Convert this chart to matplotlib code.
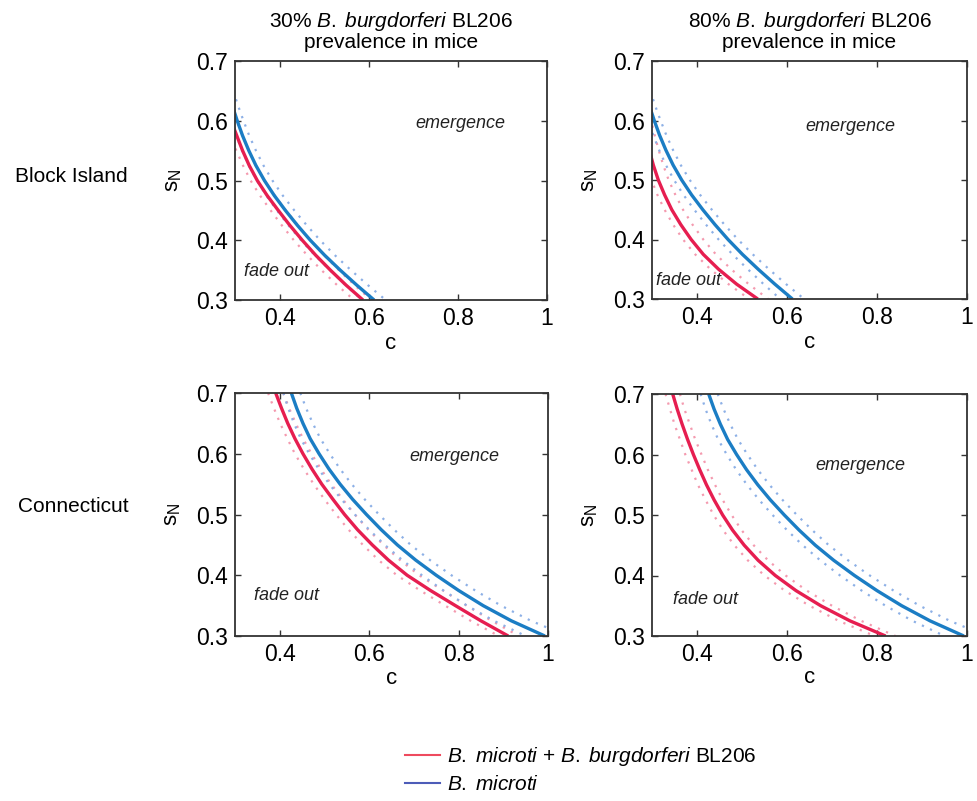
import numpy as np
import matplotlib
matplotlib.use('Agg')
import matplotlib.pyplot as plt
from matplotlib.lines import Line2D

plt.rcParams['font.family'] = 'Liberation Sans'
plt.rcParams['mathtext.fontset'] = 'custom'
plt.rcParams['mathtext.rm'] = 'Liberation Sans'
plt.rcParams['mathtext.it'] = 'Liberation Sans:italic'
plt.rcParams['mathtext.default'] = 'regular'
plt.rcParams['xtick.direction'] = 'in'
plt.rcParams['ytick.direction'] = 'in'
plt.rcParams['xtick.top'] = True
plt.rcParams['ytick.right'] = True

# s_N levels at which each threshold curve is read (rows: Block Island, Connecticut)
sN_row1 = [0.65, 0.625, 0.60, 0.575, 0.55, 0.525, 0.50, 0.475, 0.45, 0.425,
           0.40, 0.375, 0.35, 0.325, 0.30]
sN_row2 = [0.70, 0.675, 0.65, 0.625, 0.60, 0.575, 0.55, 0.525, 0.50, 0.475,
           0.45, 0.425, 0.40, 0.375, 0.35, 0.325, 0.30]

# B. microti alone (same in both columns of a row), solid line and dotted bounds
c_blue_1 = [0.284, 0.294, 0.305, 0.317, 0.331, 0.347, 0.366, 0.388, 0.413, 0.440,
            0.469, 0.501, 0.536, 0.573, 0.612]
c_blue_1_hi = [0.296, 0.307, 0.319, 0.332, 0.347, 0.364, 0.384, 0.407, 0.433, 0.461,
               0.491, 0.524, 0.560, 0.598, 0.638]
c_blue_1_lo = [0.271, 0.281, 0.291, 0.303, 0.316, 0.331, 0.349, 0.370, 0.394, 0.420,
               0.448, 0.479, 0.513, 0.548, 0.585]
c_blue_2 = [0.426, 0.438, 0.452, 0.468, 0.488, 0.510, 0.535, 0.563, 0.594, 0.627,
            0.663, 0.704, 0.750, 0.800, 0.855, 0.918, 0.993]
c_blue_2_hi = [0.446, 0.459, 0.474, 0.491, 0.512, 0.535, 0.561, 0.590, 0.622, 0.656,
               0.693, 0.736, 0.784, 0.837, 0.895, 0.962, 1.043]
c_blue_2_lo = [0.408, 0.419, 0.432, 0.447, 0.466, 0.487, 0.511, 0.538, 0.568, 0.600,
               0.635, 0.674, 0.718, 0.766, 0.819, 0.879, 0.950]

# B. microti + B. burgdorferi BL206, 30% prevalence in mice
c_red_BI30 = [0.262, 0.277, 0.291, 0.304, 0.317, 0.332, 0.350, 0.372, 0.397, 0.423,
              0.451, 0.481, 0.514, 0.549, 0.587]
c_red_BI30_hi = [0.275, 0.290, 0.304, 0.317, 0.331, 0.347, 0.366, 0.389, 0.414, 0.441,
                 0.469, 0.500, 0.533, 0.568, 0.606]
c_red_BI30_lo = [0.249, 0.263, 0.277, 0.290, 0.303, 0.318, 0.335, 0.356, 0.380, 0.405,
                 0.432, 0.462, 0.494, 0.529, 0.567]
c_red_CT30 = [0.391, 0.404, 0.418, 0.434, 0.452, 0.472, 0.494, 0.519, 0.545, 0.574,
              0.607, 0.643, 0.685, 0.737, 0.793, 0.850, 0.911]
c_red_CT30_hi = [0.408, 0.421, 0.436, 0.452, 0.471, 0.492, 0.515, 0.541, 0.568, 0.598,
                 0.632, 0.669, 0.712, 0.765, 0.818, 0.874, 0.935]
c_red_CT30_lo = [0.374, 0.387, 0.401, 0.417, 0.434, 0.454, 0.476, 0.500, 0.526, 0.554,
                 0.586, 0.621, 0.662, 0.714, 0.770, 0.827, 0.890]

# 80% prevalence in mice
c_red_BI80 = [0.268, 0.273, 0.279, 0.286, 0.294, 0.303, 0.314, 0.328, 0.344, 0.364,
              0.387, 0.414, 0.448, 0.488, 0.535]
c_red_BI80_hi = [0.285, 0.291, 0.298, 0.306, 0.315, 0.325, 0.337, 0.352, 0.369, 0.390,
                 0.414, 0.442, 0.476, 0.515, 0.558]
c_red_BI80_lo = [0.254, 0.259, 0.265, 0.272, 0.280, 0.289, 0.299, 0.312, 0.328, 0.347,
                 0.369, 0.396, 0.430, 0.470, 0.516]
c_red_CT80 = [0.346, 0.356, 0.367, 0.379, 0.392, 0.406, 0.421, 0.438, 0.457, 0.479,
              0.505, 0.536, 0.574, 0.620, 0.675, 0.740, 0.819]
c_red_CT80_hi = [0.362, 0.372, 0.384, 0.396, 0.410, 0.424, 0.440, 0.457, 0.477, 0.499,
                 0.526, 0.558, 0.597, 0.644, 0.700, 0.765, 0.841]
c_red_CT80_lo = [0.330, 0.340, 0.350, 0.362, 0.374, 0.388, 0.402, 0.419, 0.437, 0.458,
                 0.483, 0.513, 0.550, 0.595, 0.650, 0.715, 0.795]

col_titles = [r'30% $\it{B.\;burgdorferi}$ BL206' + '\nprevalence in mice',
              r'80% $\it{B.\;burgdorferi}$ BL206' + '\nprevalence in mice']
row_labels = ['Block Island', 'Connecticut']

RED = '#e61e50'
BLUE = '#1b7dc4'
RED_DOT = '#f49aaf'
BLUE_DOT = '#8db0e6'

panels = [
    (sN_row1, c_red_BI30, c_red_BI30_lo, c_red_BI30_hi, c_blue_1, c_blue_1_lo, c_blue_1_hi,
     (0.805, 0.595), (0.392, 0.347)),
    (sN_row1, c_red_BI80, c_red_BI80_lo, c_red_BI80_hi, c_blue_1, c_blue_1_lo, c_blue_1_hi,
     (0.741, 0.590), (0.381, 0.331)),
    (sN_row2, c_red_CT30, c_red_CT30_lo, c_red_CT30_hi, c_blue_2, c_blue_2_lo, c_blue_2_hi,
     (0.790, 0.595), (0.415, 0.366)),
    (sN_row2, c_red_CT80, c_red_CT80_lo, c_red_CT80_hi, c_blue_2, c_blue_2_lo, c_blue_2_hi,
     (0.762, 0.582), (0.419, 0.361)),
]

W, H = 978, 801
fig = plt.figure(figsize=(W / 100, H / 100), dpi=100)
boxes = [(235, 61, 547, 300), (652, 61, 967, 299),
         (235, 393, 548, 636), (652, 394, 967, 636)]

for k, (box, p) in enumerate(zip(boxes, panels)):
    l, t, r, b = box
    ax = fig.add_axes([l / W, 1 - b / H, (r - l) / W, (b - t) / H])
    sN, cr, crl, crh, cb, cbl, cbh, em, fo = p
    ax.plot(crl, sN, color=RED_DOT, lw=1.6, dashes=(1, 3))
    ax.plot(crh, sN, color=RED_DOT, lw=1.6, dashes=(1, 3))
    ax.plot(cbl, sN, color=BLUE_DOT, lw=1.6, dashes=(1, 3))
    ax.plot(cbh, sN, color=BLUE_DOT, lw=1.6, dashes=(1, 3))
    ax.plot(cr, sN, color=RED, lw=2.4, solid_capstyle='butt')
    ax.plot(cb, sN, color=BLUE, lw=2.4, solid_capstyle='butt')
    ax.set_xlim(0.3, 1)
    ax.set_ylim(0.3, 0.7)
    ax.set_xticks([0.4, 0.6, 0.8, 1.0])
    ax.set_xticklabels(['0.4', '0.6', '0.8', '1'])
    ax.set_yticks([0.3, 0.4, 0.5, 0.6, 0.7])
    ax.set_yticklabels(['0.3', '0.4', '0.5', '0.6', '0.7'])
    ax.tick_params(labelsize=16.5, length=4, width=1, color='#333333', pad=5)
    for s in ax.spines.values():
        s.set_linewidth(1.3)
        s.set_color('#333333')
    ax.set_xlabel('c', fontsize=16)
    ax.set_ylabel(r'$s_N$', fontsize=16)
    ax.xaxis.set_label_coords(0.5, -0.14 if k < 2 else -0.13)
    ax.yaxis.set_label_coords(-0.165, 0.5)
    ax.text(em[0], em[1], 'emergence', style='italic', fontsize=13,
            ha='center', va='center', color='#222222')
    ax.text(fo[0], fo[1], 'fade out', style='italic', fontsize=13,
            ha='center', va='center', color='#222222')
    if k < 2:
        ax.set_title(col_titles[k], fontsize=15, pad=9, linespacing=1.05)

fig.text(15 / W, 1 - 177 / H, row_labels[0], fontsize=15, va='center', ha='left')
fig.text(18 / W, 1 - 506 / H, row_labels[1], fontsize=15, va='center', ha='left')

handles = [Line2D([], [], color='#ee4a5e', lw=1.5),
           Line2D([], [], color='#4d5cb8', lw=1.5)]
labels = [r'$\it{B.\;microti}$ + $\it{B.\;burgdorferi}$ BL206',
          r'$\it{B.\;microti}$']
fig.legend(handles, labels, loc='upper left', bbox_to_anchor=(405 / W, 1 - 745 / H),
           frameon=False, fontsize=15, handlelength=1.7, handletextpad=0.3,
           labelspacing=0.35, borderpad=0, borderaxespad=0)

fig.savefig('out.png', dpi=100)
